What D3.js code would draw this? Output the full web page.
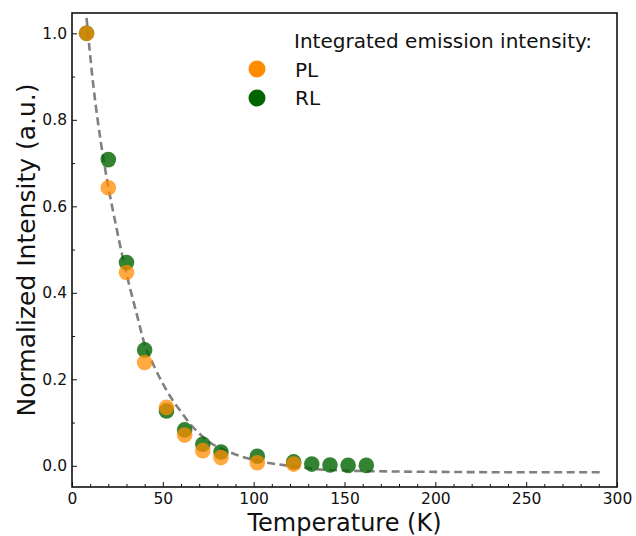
<!DOCTYPE html>
<html>
<head>
<meta charset="utf-8">
<script src="https://cdn.jsdelivr.net/npm/d3@7"></script>
<style>
  body { margin: 0; background: #fff; }
  svg { display: block; font-family: "DejaVu Sans", sans-serif; }
</style>
</head>
<body>
<div id="chart"></div>
<script>
// temperatures (K) and normalized integrated intensities
const tempPL = [8, 20, 30, 40, 52, 62, 72, 82, 102, 122];
const valPL  = [1.0, 0.643, 0.447, 0.239, 0.135, 0.071, 0.035, 0.019, 0.007, 0.004];
const tempRL = [8, 20, 30, 40, 52, 62, 72, 82, 102, 122, 132, 142, 152, 162];
const valRL  = [1.0, 0.708, 0.470, 0.268, 0.127, 0.083, 0.050, 0.032, 0.022, 0.009, 0.004, 0.002, 0.001, 0.001];

// dashed fit line
const fitT = [8, 12, 16, 20, 24, 28, 32, 36, 40, 45, 50, 56, 60, 65, 70, 76, 82, 89, 96, 105, 114, 125, 135, 150, 175, 200, 250, 292];
const fitV = [1.036, 0.87, 0.745, 0.645, 0.56, 0.48, 0.41, 0.345, 0.28, 0.232, 0.19, 0.148, 0.125, 0.097, 0.075, 0.054, 0.040, 0.028, 0.018, 0.009, 0.003, -0.003, -0.008, -0.011, -0.013, -0.014, -0.015, -0.015];

const xTicks = [0, 50, 100, 150, 200, 250, 300];
const yTicks = [0.0, 0.2, 0.4, 0.6, 0.8, 1.0];
const legendTitle = "Integrated emission intensity:";
const seriesNames = ["PL", "RL"];

const width = 636, height = 536;
const mLeft = 72, mRight = 617, mTop = 13, mBottom = 487;

const x = d3.scaleLinear().domain([0, 300]).range([mLeft, mRight]);
const y = d3.scaleLinear().domain([-0.049, 1.047]).range([mBottom, mTop]);

const svg = d3.select("#chart").append("svg")
    .attr("width", width)
    .attr("height", height);

// minor ticks
const xMinor = d3.range(0, 301, 10).filter(v => v % 50 !== 0);
const yMinor = d3.range(0, 11).map(v => v / 10).filter(v => Math.round(v * 10) % 2 === 1);

svg.append("g")
    .attr("transform", `translate(0,${mBottom})`)
    .call(d3.axisBottom(x).tickValues(xMinor).tickSize(-3).tickFormat(""))
    .call(g => g.select(".domain").remove());

svg.append("g")
    .attr("transform", `translate(${mLeft},0)`)
    .call(d3.axisLeft(y).tickValues(yMinor).tickSize(-3).tickFormat(""))
    .call(g => g.select(".domain").remove());

// major ticks
svg.append("g")
    .attr("transform", `translate(0,${mBottom})`)
    .call(d3.axisBottom(x).tickValues(xTicks).tickSize(-5).tickPadding(6).tickFormat(d3.format("d")))
    .call(g => g.select(".domain").remove());

svg.append("g")
    .attr("transform", `translate(${mLeft},0)`)
    .call(d3.axisLeft(y).tickValues(yTicks).tickSize(-5).tickPadding(5).tickFormat(d3.format(".1f")))
    .call(g => g.select(".domain").remove());

svg.selectAll(".tick text")
    .style("font-family", "DejaVu Sans")
    .style("font-size", "15.5px")
    .attr("fill", "#111");
svg.selectAll(".tick line").attr("stroke", "#111");

// fit line
const line = d3.line()
    .x((d, i) => x(fitT[i]))
    .y(d => y(d))
    .curve(d3.curveMonotoneX);

svg.append("path")
    .datum(fitV)
    .attr("fill", "none")
    .attr("stroke", "#808080")
    .attr("stroke-width", 2.6)
    .attr("stroke-dasharray", "8,4.5")
    .attr("d", line);

// points: RL first, PL on top
svg.append("g")
  .selectAll("circle")
  .data(tempRL)
  .join("circle")
    .attr("cx", d => x(d))
    .attr("cy", (d, i) => y(valRL[i]))
    .attr("r", 7.8)
    .attr("fill", "#006400")
    .attr("fill-opacity", 0.8);

svg.append("g")
  .selectAll("circle")
  .data(tempPL)
  .join("circle")
    .attr("cx", d => x(d))
    .attr("cy", (d, i) => y(valPL[i]))
    .attr("r", 7.8)
    .attr("fill", "#ff8c00")
    .attr("fill-opacity", 0.75);

// frame
svg.append("rect")
    .attr("x", mLeft)
    .attr("y", mTop)
    .attr("width", mRight - mLeft)
    .attr("height", mBottom - mTop)
    .attr("fill", "none")
    .attr("stroke", "#111")
    .attr("stroke-width", 1.6);

// axis titles
svg.append("text")
    .attr("x", (mLeft + mRight) / 2)
    .attr("y", 531)
    .attr("text-anchor", "middle")
    .style("font-size", "24px")
    .attr("fill", "#111")
    .text("Temperature (K)");

svg.append("text")
    .attr("transform", `translate(35,${(mTop + mBottom) / 2}) rotate(-90)`)
    .attr("text-anchor", "middle")
    .style("font-size", "25px")
    .attr("fill", "#111")
    .text("Normalized Intensity (a.u.)");

// legend
const legend = svg.append("g");
legend.append("text")
    .attr("x", 294)
    .attr("y", 48)
    .style("font-size", "20px")
    .attr("fill", "#111")
    .text(legendTitle);

const legendColors = ["#ff8c00", "#006400"];
seriesNames.forEach((name, i) => {
  legend.append("circle")
      .attr("cx", 257)
      .attr("cy", 69 + i * 29)
      .attr("r", 8.5)
      .attr("fill", legendColors[i]);
  legend.append("text")
      .attr("x", 295)
      .attr("y", 77 + i * 28)
      .style("font-size", "20px")
      .attr("fill", "#111")
      .text(name);
});
</script>
</body>
</html>
